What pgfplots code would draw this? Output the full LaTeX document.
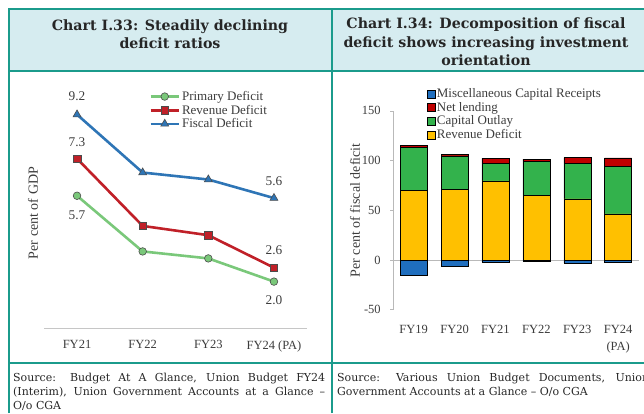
\documentclass[border=0pt]{standalone}
\usepackage{pgfplots}
\pgfplotsset{compat=1.18}
\usepackage{fontspec}
\setmainfont{Liberation Serif}
\newfontfamily\titlefont{DejaVu Serif}
\definecolor{teal1}{RGB}{27,155,140}
\definecolor{hdr}{RGB}{214,236,240}
\definecolor{pgreen}{RGB}{122,200,122}
\definecolor{pred}{RGB}{192,32,40}
\definecolor{pblue}{RGB}{46,117,182}
\definecolor{bblue}{RGB}{31,110,190}
\definecolor{bred}{RGB}{192,0,0}
\definecolor{bgreen}{RGB}{51,178,76}
\definecolor{byellow}{RGB}{255,192,0}
\definecolor{txt}{RGB}{60,60,60}
\newcommand{\cf}{\fontsize{12.5}{15}\selectfont}
\newcommand{\lf}{\fontsize{13}{15.6}\selectfont}
\newcommand{\df}{\fontsize{13.3}{16}\selectfont}
\newcommand{\yf}{\fontsize{14}{16.8}\selectfont}
\begin{document}
\begin{tikzpicture}
\useasboundingbox (0pt,0pt) rectangle (644pt,413pt);
\clip (0pt,0pt) rectangle (644pt,413pt);
% header band
\fill[hdr] (8pt,341.5pt) rectangle (644pt,403.5pt);
\node[font=\titlefont\bfseries\fontsize{14.2}{18}\selectfont, align=center, text=black!85] at (170pt,379pt) {Chart I.33: Steadily declining\\deficit ratios};
\node[font=\titlefont\bfseries\fontsize{14.2}{18.3}\selectfont, align=center, text=black!85] at (486pt,371pt) {Chart I.34: Decomposition of fiscal\\deficit shows increasing investment\\orientation};
% sources
\node[anchor=north west, inner sep=0pt, text width=312pt, align=justify, font=\titlefont\fontsize{11}{14}\selectfont, text=black!85] at (13pt,40pt) {Source: Budget At A Glance, Union Budget FY24\linebreak (Interim), Union Government Accounts at a Glance –\linebreak O/o CGA};
\node[anchor=north west, inner sep=0pt, text width=312pt, align=justify, font=\titlefont\fontsize{11}{14}\selectfont, text=black!85] at (337pt,40pt) {Source: Various Union Budget Documents, Union\linebreak Government Accounts at a Glance – O/o CGA};

% ---------------- left chart ----------------
\begin{axis}[at={(44.2pt,85pt)}, anchor=south west, scale only axis,
  width=262.6pt, height=243.6pt,
  xmin=-0.5, xmax=3.5, ymin=0, ymax=10.5,
  axis lines*=left,
  y axis line style={draw=none},
  x axis line style={draw=gray!45, line width=1pt},
  ytick=\empty,
  xtick={0,1,2,3}, xticklabels={FY21,FY22,FY23,FY24 (PA)},
  major tick length=0pt,
  tick label style={font=\cf, text=txt},
  xticklabel style={yshift=-9pt},
  ylabel={Per cent of GDP},
  ylabel style={at={(axis description cs:-0.043,0.472)}, anchor=center, font=\yf, text=txt},
  legend style={draw=none, fill=none, at={(0.40,0.981)}, anchor=north west, font=\lf, text=txt, row sep=-1pt, inner sep=0pt, cells={anchor=west}},
  legend image code/.code={\draw[mark repeat=2,mark phase=2,#1] plot coordinates {(0pt,0pt) (14pt,0pt) (28pt,0pt)};},
  clip=false]
\addplot[pgreen, line width=2.6pt, mark=*, mark size=3.8pt, mark options={fill=pgreen, draw=black!70, line width=0.6pt}] coordinates {(0,5.7)(1,3.3)(2,3.0)(3,2.0)};
\addlegendentry{Primary Deficit}
\addplot[pred, line width=2.6pt, mark=square*, mark size=3.8pt, mark options={fill=pred, draw=black!70, line width=0.6pt}] coordinates {(0,7.3)(1,4.4)(2,4.0)(3,2.6)};
\addlegendentry{Revenue Deficit}
\addplot[pblue, line width=2.6pt, mark=triangle*, mark size=4.6pt, mark options={fill=pblue, draw=black!70, line width=0.6pt}] coordinates {(0,9.2)(1,6.7)(2,6.4)(3,5.6)};
\addlegendentry{Fiscal Deficit}
\node[font=\df, text=txt] at (axis cs:0,9.2) [yshift=18pt] {9.2};
\node[font=\df, text=txt] at (axis cs:0,7.3) [yshift=16.5pt] {7.3};
\node[font=\df, text=txt] at (axis cs:0,5.7) [yshift=-19pt] {5.7};
\node[font=\df, text=txt] at (axis cs:3,5.6) [yshift=17pt] {5.6};
\node[font=\df, text=txt] at (axis cs:3,2.6) [yshift=17pt] {2.6};
\node[font=\df, text=txt] at (axis cs:3,2.0) [yshift=-19pt] {2.0};
\end{axis}

% ---------------- right chart ----------------
\begin{axis}[at={(393.2pt,103.3pt)}, anchor=south west, scale only axis,
  width=245.4pt, height=198.8pt,
  xmin=-0.5, xmax=5.5, ymin=-50, ymax=150,
  axis lines*=left,
  x axis line style={draw=none},
  y axis line style={draw=gray!55, line width=0.8pt},
  ytick={-50,0,50,100,150}, yticklabels={-50,0,50,100,150},
  xtick={0,1,2,3,4,5},
  xticklabels={FY19,FY20,FY21,FY22,FY23,{FY24\\[2pt](PA)}},
  xticklabel style={align=center, yshift=-9pt},
  x tick style={draw=none},
  y tick style={draw=gray!55, line width=0.8pt},
  tick align=outside, major tick length=3pt,
  tick label style={font=\cf, text=txt},
  yticklabel style={xshift=-6pt},
  ylabel={Per cent of fiscal deficit},
  ylabel style={at={(axis description cs:-0.156,0.5)}, anchor=center, font=\yf, text=txt},
  clip=false]
\draw[gray!55, line width=0.8pt] (axis cs:-0.5,0) -- (axis cs:5.5,0);
\addplot[ybar, bar width=27pt, fill=bblue, draw=black, line width=0.5pt] coordinates {(0,-15)(1,-6)(2,-2.2)(3,-1.5)(4,-3)(5,-2.7)};
\end{axis}
\begin{axis}[at={(393.2pt,103.3pt)}, anchor=south west, scale only axis,
  width=245.4pt, height=198.8pt,
  xmin=-0.5, xmax=5.5, ymin=-50, ymax=150,
  axis lines=none, ybar stacked, bar width=27pt,
  xtick=\empty, ytick=\empty,
  reverse legend,
  legend style={draw=none, fill=none, at={(0.135,1.122)}, anchor=north west, font=\lf, text=txt, row sep=-1pt, inner sep=0pt, cells={anchor=west}},
  legend image code/.code={\draw[#1, draw=black, line width=0.4pt] (0pt,-4pt) rectangle (8pt,4pt);},
  clip=false]
\addplot[fill=byellow, draw=black, line width=0.5pt] coordinates {(0,70.0)(1,71.4)(2,79.7)(3,65.1)(4,61.6)(5,46.3)};
\addlegendentry{Revenue Deficit}
\addplot[fill=bgreen, draw=black, line width=0.5pt] coordinates {(0,43.0)(1,33.3)(2,17.4)(3,33.8)(4,35.9)(5,47.6)};
\addlegendentry{Capital Outlay}
\addplot[fill=bred, draw=black, line width=0.5pt] coordinates {(0,2.0)(1,1.3)(2,5.1)(3,2.6)(4,5.5)(5,8.8)};
\addlegendentry{Net lending}
\addlegendimage{fill=bblue}
\addlegendentry{Miscellaneous Capital Receipts}
\node[font=\df, text=black!80] at (axis cs:0,35) {70.0};
\node[font=\df, text=black!80] at (axis cs:1,35.7) {71.4};
\node[font=\df, text=black!80] at (axis cs:2,39.85) {79.7};
\node[font=\df, text=black!80] at (axis cs:3,32.55) {65.1};
\node[font=\df, text=black!80] at (axis cs:4,30.8) {61.6};
\node[font=\df, text=black!80] at (axis cs:5,23.15) {46.3};
\node[font=\df, text=black!80] at (axis cs:0,91.5) {43.0};
\node[font=\df, text=black!80] at (axis cs:1,88.05) {33.3};
\node[font=\df, text=black!80] at (axis cs:2,88.4) {17.4};
\node[font=\df, text=black!80] at (axis cs:3,82) {33.8};
\node[font=\df, text=black!80] at (axis cs:4,79.55) {35.9};
\node[font=\df, text=black!80] at (axis cs:5,70.1) {47.6};
\end{axis}

% frame lines
\draw[teal1, line width=2pt] (8pt,403.5pt) -- (644pt,403.5pt);
\draw[teal1, line width=2pt] (8pt,341.5pt) -- (644pt,341.5pt);
\draw[teal1, line width=2pt] (8pt,50pt) -- (644pt,50pt);
\draw[teal1, line width=2pt] (8.5pt,0pt) -- (8.5pt,404.5pt);
\draw[teal1, line width=2pt] (332pt,0pt) -- (332pt,404.5pt);
\end{tikzpicture}
\end{document}
